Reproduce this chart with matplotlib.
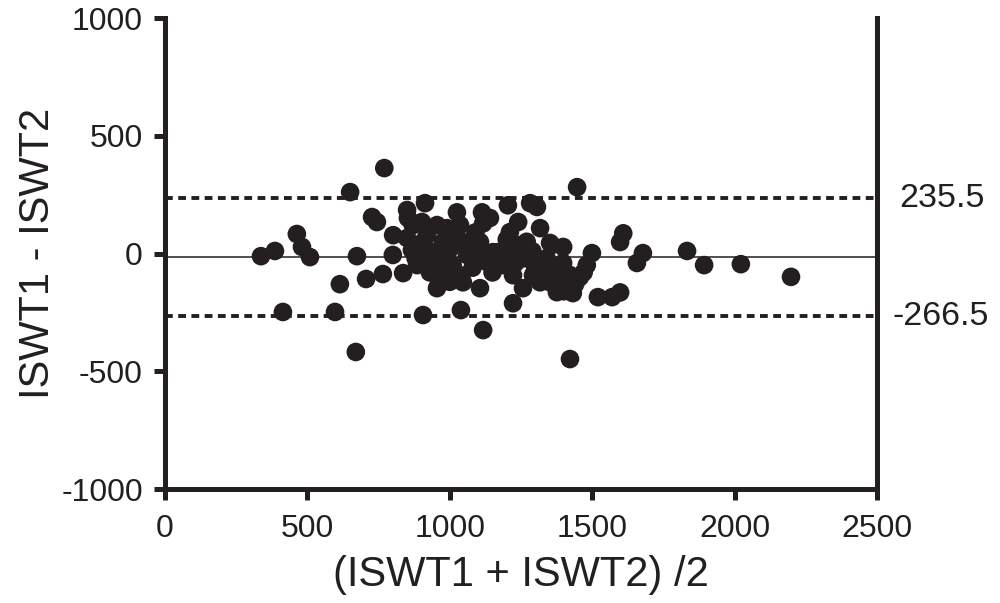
import matplotlib
matplotlib.use("Agg")
import matplotlib.pyplot as plt

plt.rcParams['font.family'] = ['Liberation Sans', 'DejaVu Sans']

mean_xy = [
    337, 386, 414, 463, 481, 509, 597, 614, 650, 670, 674, 706, 727, 744, 765, 770,
    801, 800, 836, 850, 853, 913, 906, 902, 850, 867, 885, 906, 920, 941, 955, 955,
    976, 990, 990, 990, 1025, 1036, 1036, 1039, 1046, 1046, 1060, 1106, 1106, 1113, 1117, 1117,
    1131, 1141, 1152, 1166, 1187, 1204, 1211, 1211, 1211, 1222, 1222, 1240, 1247, 1257, 1282, 1282,
    1292, 1306, 1317, 1317, 1327, 1352, 1352, 1358, 1376, 1398, 1398, 1411, 1422, 1432, 1447, 1457,
    1481, 1499, 1520, 1570, 1598, 1598, 1609, 1657, 1678, 1833, 1893, 2022, 2198,
    880, 930, 960, 1000, 1010, 1020, 1070, 1080, 1090, 1120, 1150, 1180, 1200, 1230, 1260, 1270,
    1290, 1300, 1340, 1360, 1380, 1420, 1440, 1400, 1470, 870, 930, 960, 1000,
]
diff_xy = [
    -11, 11, -248, 83, 28, -15, -248, -130, 261, -418, -11, -108, 155, 134, -87, 363,
    78, -6, -83, 185, 151, 214, -261, 134, 66, 15, -49, 49, 78, -36, 121, -147,
    49, 108, -6, -79, 175, 121, -92, -240, 49, -122, -6, 49, -147, 175, 128, -325,
    -36, 151, 6, 6, -49, 205, 91, 36, -6, -92, -211, 134, 36, -147, 214, -19,
    -92, 198, 108, -122, -49, 45, -122, 36, -164, 28, -40, -122, -448, -168, 282, -100,
    -49, 2, -185, -185, -165, 49, 86, -40, 2, 11, -49, -45, -99,
    -20, 10, -10, 20, -50, 80, 30, -60, 90, -10, -80, -20, 60, -40, -20, 50,
    10, -60, -20, -80, -60, -90, -130, -160, -80, 120, -80, -100, -120,
]
upper_loa = 235.5
lower_loa = -266.5
bias = -15.5

x_ticks = [0, 500, 1000, 1500, 2000, 2500]
y_ticks = [-1000, -500, 0, 500, 1000]

fig = plt.figure(figsize=(10, 6.03), dpi=100)
ax = fig.add_axes([0.165, 0.189, 0.712, 0.781])

ink = '#231f20'
ax.scatter(mean_xy, diff_xy, s=180, color=ink, edgecolors='none', zorder=3, clip_on=False)

ax.axhline(upper_loa, color=ink, lw=2.8, linestyle=(0, (2.0, 1.4)), zorder=2)
ax.axhline(lower_loa, color=ink, lw=2.8, linestyle=(0, (2.0, 1.4)), zorder=2)
ax.axhline(bias, color=ink, lw=1.1, zorder=2)

ax.set_xlim(0, 2500)
ax.set_ylim(-1000, 1000)
ax.set_xticks(x_ticks)
ax.set_yticks(y_ticks)
ax.set_xticklabels([str(v) for v in x_ticks])
ax.set_yticklabels([str(v) for v in y_ticks])

for side in ['left', 'bottom', 'right']:
    ax.spines[side].set_linewidth(3.6)
    ax.spines[side].set_color(ink)
ax.spines['top'].set_visible(False)
ax.spines['right'].set_bounds(-1000, 1000)

ax.tick_params(axis='both', direction='out', length=8, width=3.6, color=ink,
               labelsize=23, labelcolor=ink)
ax.tick_params(axis='y', pad=8)
ax.tick_params(axis='x', pad=10)
ax.tick_params(right=False, top=False)

ax.set_xlabel('(ISWT1 + ISWT2) /2', fontsize=30, color=ink, labelpad=8)
ax.set_ylabel('ISWT1 - ISWT2', fontsize=30, color=ink, labelpad=2)

ax.annotate(f'{upper_loa}', xy=(1, upper_loa), xycoords=('axes fraction', 'data'),
            xytext=(16, 0), textcoords='offset points', va='center', ha='left',
            fontsize=24.5, color=ink, annotation_clip=False)
ax.annotate(f'{lower_loa}', xy=(1, lower_loa), xycoords=('axes fraction', 'data'),
            xytext=(11, 0), textcoords='offset points', va='center', ha='left',
            fontsize=24.5, color=ink, annotation_clip=False)

fig.savefig('out.png', dpi=100, facecolor='white')
